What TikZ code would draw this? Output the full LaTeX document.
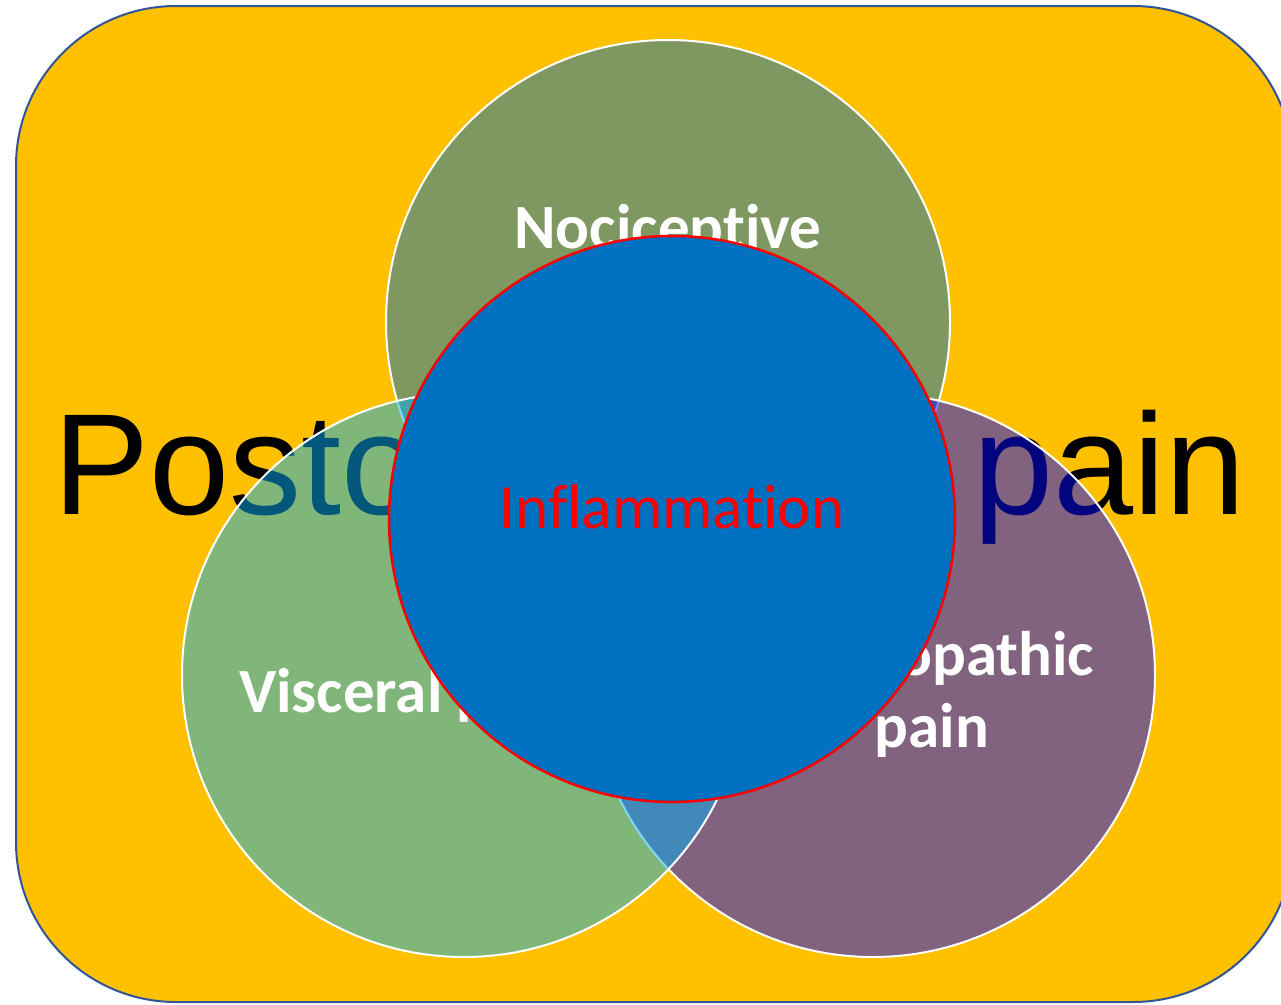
\documentclass[tikz,border=0pt]{standalone}
\usepackage{fontspec}
\setmainfont{Carlito}[Ligatures=NoCommon]
\newfontfamily\titlefont{Liberation Sans}
\definecolor{frameFill}{HTML}{FFC000}
\definecolor{frameLine}{HTML}{2F5597}
\definecolor{nociFill}{HTML}{0070C0}
\definecolor{neuroFill}{HTML}{0506FE}
\definecolor{visceFill}{HTML}{05AEF4}
\definecolor{inflamFill}{HTML}{0070C0}
\definecolor{inflamRed}{HTML}{FF0000}
\begin{document}
\begin{tikzpicture}[x=1pt,y=-1pt,
  venn/.style={circle, inner sep=0pt, minimum size=564pt, draw=white,
    line width=2pt, fill opacity=0.5},
  lbl/.style={text=white, inner sep=0pt, align=center,
    font=\bfseries\fontsize{63}{72}\selectfont},
  title/.style={text=black, inner sep=0pt,
    font=\titlefont\fontsize{144}{150}\selectfont}]
  \clip (0,0) rectangle (1281,1004);
  % framing panel
  \draw[fill=frameFill, draw=frameLine, line width=2pt, rounded corners=160pt]
    (16,6) rectangle (1293,1002);
  % heading behind the circles
  \node[title, anchor=base west] (heading) at (53,514) {Postoperative pain};
  % three translucent circles
  \node[venn, fill=nociFill] (noci) at (668,322) {};
  \node[venn, fill=neuroFill] (neuro) at (873,675) {};
  \node[venn, fill=visceFill] (visce) at (464,675) {};
  % circle labels (base anchor sits on the last line)
  \node[lbl, anchor=base] (nocilbl) at (668,320) {Nociceptive\\pain};
  \node[lbl, anchor=base] (viscelbl) at (405,712) {Visceral pain};
  \node[lbl, anchor=base] (neurolbl) at (932,747) {Neuropathic\\pain};
  % central circle
  \node[circle, inner sep=0pt, minimum size=566pt, fill=inflamFill,
    draw=inflamRed, line width=2.5pt] (inflam) at (672,519) {};
  \node[text=inflamRed, inner sep=0pt, anchor=base,
    font=\fontsize{63}{70}\selectfont] (inflamlbl) at (672,528) {Inflammation};
\end{tikzpicture}
\end{document}
